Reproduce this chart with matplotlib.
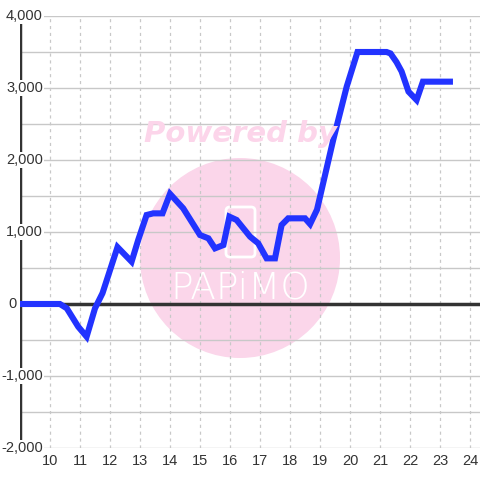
import matplotlib
matplotlib.use("Agg")
import matplotlib.pyplot as plt
from matplotlib.patches import Circle, FancyBboxPatch

plt.rcParams['font.family'] = ['Liberation Sans', 'DejaVu Sans']

hours = [9.0, 10.33, 10.56, 10.94, 11.22, 11.5, 11.75, 12.25, 12.72,
         12.94, 13.22, 13.44, 13.75, 14.0, 14.44, 15.0, 15.28, 15.5, 15.78, 15.98,
         16.22, 16.67, 16.94, 17.22, 17.5, 17.72, 17.94, 18.5, 18.67, 18.9, 19.44,
         19.89, 20.25, 21.22, 21.35, 21.55, 21.72, 21.95, 22.22, 22.43, 23.33]
values = [0, 0, -60, -315, -454, -60, 150, 790, 588,
          889, 1236, 1259, 1259, 1530, 1329, 958, 912, 773, 819, 1213,
          1167, 935, 843, 634, 634, 1097, 1190, 1190, 1110, 1310, 2278,
          3019, 3500, 3500, 3480, 3360, 3230, 2950, 2833, 3088, 3088]

x_ticks = list(range(10, 25))
y_ticks = [-2000, -1000, 0, 1000, 2000, 3000, 4000]
y_tick_labels = ['-2,000', '-1,000', '0', '1,000', '2,000', '3,000', '4,000']
y_minor = [-1500, -500, 500, 1500, 2500, 3500]

fig = plt.figure(figsize=(4.8, 4.8), dpi=100)
ax = fig.add_axes([20/480, 32/480, 460/480, 432/480])
ax.set_xlim(9, 9 + 460/30)
ax.set_ylim(-2000, 4000)
for s in ax.spines.values():
    s.set_visible(False)

# watermark
circ = Circle((240/480, 1 - 258/480), 100/480, transform=fig.transFigure,
              facecolor='#fbd6ea', edgecolor='none', zorder=0.2)
ax.add_patch(circ)
phone = FancyBboxPatch((226/480, 1 - 257/480), 29/480, 50/480, boxstyle='round,pad=0,rounding_size=0.008',
                       transform=fig.transFigure, facecolor='none', edgecolor='white', lw=2, zorder=0.3)
ax.add_patch(phone)
fig.text(240/480, 1 - 134/480, 'Powered by', ha='center', va='center', fontsize=21,
         fontweight='bold', style='italic', family='DejaVu Sans', color='#fcd5ea', zorder=0.1)
ax.text(240/480, 1 - 288/480, 'PAPiMO', transform=fig.transFigure, ha='center', va='center',
        fontsize=27, color='white', family='DejaVu Sans', fontweight='light', zorder=0.3)

# grid
for yv in y_ticks + y_minor:
    ax.axhline(yv, color='#c8c8c8', lw=1, zorder=1)
for xv in x_ticks:
    ax.axvline(xv, color='#c8c8c8', lw=0.9, ls=(0, (2.5, 3)), zorder=1)

ax.axvline(9, color='#333333', lw=2.5, zorder=2)
ax.axhline(0, color='#333333', lw=2.5, zorder=2)

ax.plot(hours, values, color='#2233ff', lw=4.4, zorder=3, solid_joinstyle='miter')

ax.set_yticks([])
ax.set_xticks(x_ticks)
ax.set_xticklabels([str(v) for v in x_ticks])
ax.tick_params(axis='x', length=0, pad=4, labelsize=10.5, labelcolor='#333333')

ytr = ax.get_yaxis_transform()
for yv, lab in zip(y_ticks, y_tick_labels):
    xpos = 43 if yv != 0 else 16.5
    ax.text((xpos - 20) / 460, yv, lab, transform=ytr, ha='right', va='center',
            fontsize=10.5, color='#333333', zorder=4, clip_on=False,
            bbox=dict(facecolor='white', edgecolor='none', pad=1.0))

fig.savefig('out.png', dpi=100, facecolor='white')
